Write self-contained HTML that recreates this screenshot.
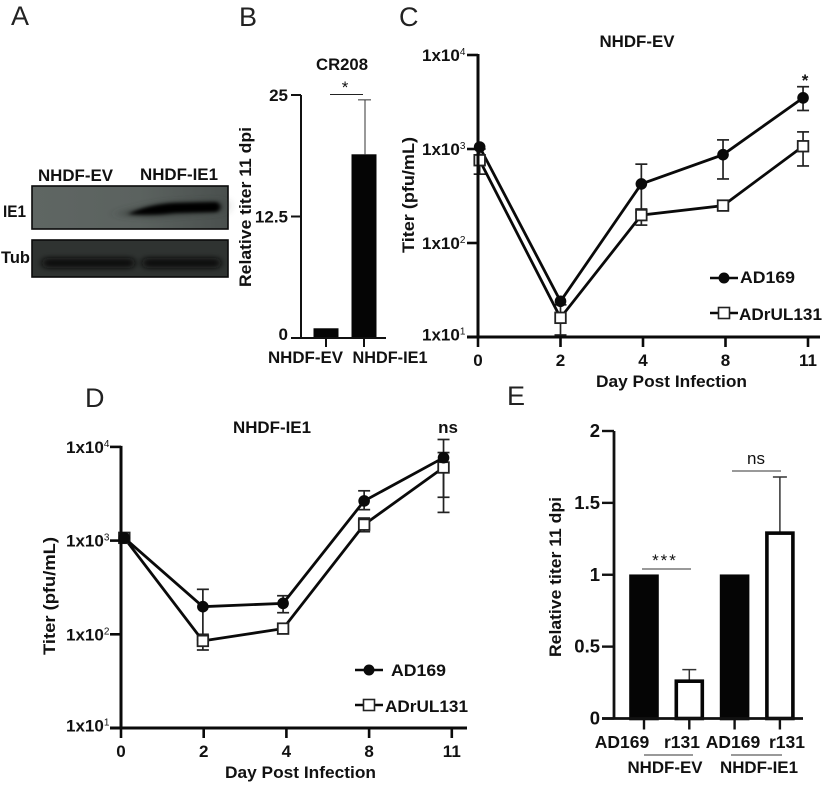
<!DOCTYPE html>
<html lang="en">
<head>
<meta charset="utf-8">
<title>NHDF titer figure</title>
<style>
html,body{margin:0;padding:0;background:#fff}
#fig{display:block;width:830px;height:786px}
text{font-family:"Liberation Sans",sans-serif;font-weight:bold;fill:#111;font-size:17px}
.letter{font-weight:normal;font-size:27px;fill:#222}
.plain{font-weight:normal}
</style>
</head>
<body>
<svg id="fig" xmlns="http://www.w3.org/2000/svg" width="830" height="786" viewBox="0 0 830 786">
<defs>
<filter id="b3" x="-30%" y="-150%" width="160%" height="400%"><feGaussianBlur stdDeviation="2.2 1.6"/></filter>
<filter id="b4" x="-30%" y="-150%" width="160%" height="400%"><feGaussianBlur stdDeviation="3.5 2.6"/></filter>
<filter id="b5" x="-30%" y="-200%" width="160%" height="500%"><feGaussianBlur stdDeviation="7 3"/></filter>
<linearGradient id="blot1" x1="0" x2="1" y1="0" y2="0"><stop offset="0" stop-color="#5f6663"/><stop offset=".55" stop-color="#5b625f"/><stop offset="1" stop-color="#4a504e"/></linearGradient>
</defs>

<g>
<text class="letter" x="11" y="25">A</text>
<text class="letter" x="239" y="26">B</text>
<text class="letter" x="399" y="26">C</text>
<text class="letter" x="85" y="407">D</text>
<text class="letter" x="507" y="405">E</text>
</g>

<g>
<text x="38" y="181" textLength="75" lengthAdjust="spacingAndGlyphs">NHDF-EV</text>
<text x="140" y="180" textLength="78" lengthAdjust="spacingAndGlyphs">NHDF-IE1</text>
<text x="3" y="217" textLength="23" lengthAdjust="spacingAndGlyphs">IE1</text>
<text x="1" y="263" textLength="29" lengthAdjust="spacingAndGlyphs">Tub</text>
<rect x="32" y="186" width="196" height="43" fill="url(#blot1)" stroke="#0a0a0a" stroke-width="1.6"/>
<path d="M118 214 Q150 204 170 202 L220 200 Q224 207 218 213 L170 216 Q140 219 118 214Z" fill="#3b403e" filter="url(#b5)"/>
<path d="M128 214 Q150 204 175 203 L217 202 Q224 207 217 212 L175 213 Q150 216 128 214Z" fill="#020202" filter="url(#b3)"/>
<rect x="32" y="240" width="196" height="37" fill="#2f3331" stroke="#0a0a0a" stroke-width="1.6"/>
<rect x="42" y="258" width="93" height="10" rx="5" fill="#070707" filter="url(#b4)"/>
<rect x="142" y="258" width="79" height="10" rx="5" fill="#070707" filter="url(#b4)"/>
</g>

<g id="panelB">
<text x="342" y="70" text-anchor="middle" textLength="52" lengthAdjust="spacingAndGlyphs">CR208</text>
<text x="345" y="93" text-anchor="middle" class="plain">*</text>
<line x1="330" x2="363" y1="94.5" y2="94.5" stroke="#222" stroke-width="1"/>
<text transform="translate(251 207) rotate(-90)" text-anchor="middle" textLength="160" lengthAdjust="spacingAndGlyphs">Relative titer 11 dpi</text>
</g>

<g id="panelC">
<text x="637" y="47" text-anchor="middle" textLength="75" lengthAdjust="spacingAndGlyphs">NHDF-EV</text>
<text x="805" y="86" text-anchor="middle">*</text>
<text transform="translate(414 195) rotate(-90)" text-anchor="middle" textLength="116" lengthAdjust="spacingAndGlyphs">Titer (pfu/mL)</text>
<text x="596" y="387" textLength="151" lengthAdjust="spacingAndGlyphs">Day Post Infection</text>
<text x="740" y="283" textLength="55" lengthAdjust="spacingAndGlyphs">AD169</text>
<text x="739" y="320" textLength="83" lengthAdjust="spacingAndGlyphs">ADrUL131</text>
</g>

<g id="panelD">
<text x="272" y="433" text-anchor="middle" textLength="78" lengthAdjust="spacingAndGlyphs">NHDF-IE1</text>
<text x="448" y="433" text-anchor="middle">ns</text>
<text transform="translate(55 596) rotate(-90)" text-anchor="middle" textLength="118" lengthAdjust="spacingAndGlyphs">Titer (pfu/mL)</text>
<text x="225" y="778" textLength="151" lengthAdjust="spacingAndGlyphs">Day Post Infection</text>
<text x="391" y="676" textLength="55" lengthAdjust="spacingAndGlyphs">AD169</text>
<text x="385" y="712" textLength="83" lengthAdjust="spacingAndGlyphs">ADrUL131</text>
</g>

<g id="panelE">
<text transform="translate(561 577) rotate(-90)" text-anchor="middle" textLength="160" lengthAdjust="spacingAndGlyphs">Relative titer 11 dpi</text>
<text x="665" y="566" text-anchor="middle" class="plain" letter-spacing="2">***</text>
<line x1="642" x2="691" y1="569" y2="569" stroke="#333" stroke-width="1"/>
<text x="756" y="464" text-anchor="middle" class="plain">ns</text>
<line x1="732" x2="781" y1="471" y2="471" stroke="#333" stroke-width="1"/>
<line x1="644" x2="693" y1="755" y2="755" stroke="#333" stroke-width="1"/>
<line x1="731" x2="782" y1="755" y2="755" stroke="#333" stroke-width="1"/>
<text x="665" y="773" text-anchor="middle" textLength="75" lengthAdjust="spacingAndGlyphs">NHDF-EV</text>
<text x="759" y="773" text-anchor="middle" textLength="78" lengthAdjust="spacingAndGlyphs">NHDF-IE1</text>
</g>
</svg>

<script>
// Panel B data
var bCategories = ["NHDF-EV", "NHDF-IE1"];
var bValues = [1, 18.9];
var bErrorHigh = [null, 24.5];
var bTickValues = [0, 12.5, 25];
var bTickLabels = ["0", "12.5", "25"];

// Panel C data
var cCategories = ["0", "2", "4", "8", "11"];
var cSlots = [0.02, 1, 1.98, 2.97, 3.94];
var cAd169 = [1050, 24, 425, 870, 3500];
var cAd169High = [null, null, 690, 1250, 4600];
var cAd169Low = [null, null, 210, 480, 2570];
var cRul131 = [760, 16, 198, 250, 1070];
var cRul131High = [1000, 22, 230, null, 1520];
var cRul131Low = [540, 10.5, 155, null, 660];
var cTickValues = [10, 100, 1000, 10000];
var cTickExponents = ["1", "2", "3", "4"];

// Panel D data
var dCategories = ["0", "2", "4", "8", "11"];
var dSlots = [0.04, 0.99, 1.96, 2.94, 3.9];
var dAd169 = [1070, 197, 214, 2650, 7670];
var dAd169High = [null, 302, 258, 3400, 12000];
var dAd169Low = [null, 87, 170, 2140, 2900];
var dRul131 = [1070, 85, 115, 1480, 6030];
var dRul131High = [null, 100, null, 1740, 8700];
var dRul131Low = [null, 68, null, 1245, 2000];
var dTickValues = [10, 100, 1000, 10000];
var dTickExponents = ["1", "2", "3", "4"];

// Panel E data
var eCategories = ["AD169", "r131", "AD169", "r131"];
var eValues = [1, 0.27, 1, 1.3];
var eErrorHigh = [null, 0.34, null, 1.68];
var eFilled = [true, false, true, false];
var eTickValues = [0, 0.5, 1, 1.5, 2];
var eTickLabels = ["0", "0.5", "1", "1.5", "2"];

var NS = "http://www.w3.org/2000/svg";
function mk(parent, tag, props, content) {
  var n = document.createElementNS(NS, tag);
  for (var k in props) { n.setAttribute(k, props[k]); }
  if (content !== undefined) { n.textContent = content; }
  parent.appendChild(n);
  return n;
}

// Axis functions
function xB(i) { return 326 + i * 38; }
function yB(v) { return 338 - v / 25 * 243; }
function xC(s) { return 478 + s * 82.5; }
function yC(v) { return 337 - (Math.log10(v) - 1) * 94; }
function xD(s) { return 121 + s * 82.7; }
function yD(v) { return 728 - (Math.log10(v) - 1) * 93.7; }
function xE(i) { return 644 + i * 45.3; }
function yE(v) { return 718.5 - v / 2 * 287.5; }

function drawErrors(g, xs, values, high, low, sx, sy, prefix) {
  values.forEach(function (v, i) {
    var x = sx(xs[i]);
    [high[i], low[i]].forEach(function (e, j) {
      if (e === null) { return; }
      var stem = mk(g, 'line', {x1: x, x2: x, y1: sy(v), y2: sy(e), stroke: '#222', 'stroke-width': 1.7});
      
      
      var cap = mk(g, 'line', {x1: x - 6, x2: x + 6, y1: sy(e), y2: sy(e), stroke: '#222', 'stroke-width': 1.7});
      
      
    });
  });
}
function drawCircles(g, xs, values, sx, sy, prefix) {
  var pts = values.map(function (v, i) { return sx(xs[i]) + ',' + sy(v); }).join(' ');
  var line = mk(g, 'polyline', {points: pts, fill: 'none', stroke: '#0a0a0a', 'stroke-width': 2.8});
  
  
  values.forEach(function (v, i) {
    var c = mk(g, 'circle', {cx: sx(xs[i]), cy: sy(v), r: 5.8, fill: '#0a0a0a'});
    
    
  });
}
function drawSquares(g, xs, values, sx, sy, prefix) {
  var pts = values.map(function (v, i) { return sx(xs[i]) + ',' + sy(v); }).join(' ');
  var line = mk(g, 'polyline', {points: pts, fill: 'none', stroke: '#0a0a0a', 'stroke-width': 2.8});
  
  
  values.forEach(function (v, i) {
    var s = mk(g, 'rect', {x: sx(xs[i]) - 5.3, y: sy(v) - 5.3, width: 10.6, height: 10.6, fill: '#fff', stroke: '#222', 'stroke-width': 1.8});
    
    
  });
}
function drawLogAxes(g, sx, sy, ticks, exps, cats, o) {
  var ya = mk(g, 'line', {x1: o.x0, x2: o.x0, y1: sy(ticks[ticks.length - 1]) - 1, y2: sy(ticks[0]), stroke: '#0a0a0a', 'stroke-width': 3});
  
  
  var xa = mk(g, 'line', {x1: o.x0 - 11, x2: o.xEnd, y1: sy(ticks[0]), y2: sy(ticks[0]), stroke: '#0a0a0a', 'stroke-width': 3});
  
  
  ticks.forEach(function (t, i) {
    var tk = mk(g, 'line', {x1: o.x0 - 11, x2: o.x0, y1: sy(t), y2: sy(t), stroke: '#0a0a0a', 'stroke-width': 2.6});
    
    
    var lb = mk(g, 'text', {x: o.labelX, y: sy(t) + (i === 0 ? 3.5 : 6)});
    
    
    mk(lb, 'tspan', {}, '1x10');
    mk(lb, 'tspan', {dy: -6, style: 'font-size:10px;font-weight:normal'}, exps[i]);
  });
  cats.forEach(function (c, i) {
    var tk = mk(g, 'line', {x1: sx(i), x2: sx(i), y1: sy(ticks[0]), y2: sy(ticks[0]) + 10, stroke: '#0a0a0a', 'stroke-width': 2.6});
    
    
    var lb = mk(g, 'text', {x: sx(i), y: sy(ticks[0]) + 29, 'text-anchor': 'middle'}, c);
    
    
  });
}
function drawLegend(g, lx, y1, y2) {
  var l1 = mk(g, 'line', {x1: lx - 14, x2: lx + 14, y1: y1, y2: y1, stroke: '#0a0a0a', 'stroke-width': 2.6});
  
  
  var c = mk(g, 'circle', {cx: lx, cy: y1, r: 5.5, fill: '#0a0a0a'});
  
  
  var l2 = mk(g, 'line', {x1: lx - 14, x2: lx + 14, y1: y2, y2: y2, stroke: '#0a0a0a', 'stroke-width': 2.6});
  
  
  var s = mk(g, 'rect', {x: lx - 5.5, y: y2 - 5.5, width: 11, height: 11, fill: '#fff', stroke: '#222', 'stroke-width': 1.6});
  
  
}

/* Panel B */
(function () {
  var g = document.getElementById('panelB');
  bValues.forEach(function (v, i) {
    var b = mk(g, 'rect', {x: xB(i) - 12.5, y: yB(v), width: 25, height: yB(0) - yB(v), fill: '#050505'});
    
    
    if (bErrorHigh[i] !== null) {
      var s = mk(g, 'line', {x1: xB(i) + 1, x2: xB(i) + 1, y1: yB(v), y2: yB(bErrorHigh[i]), stroke: '#333', 'stroke-width': 1});
      
      
      var c = mk(g, 'line', {x1: xB(i) - 6, x2: xB(i) + 7, y1: yB(bErrorHigh[i]), y2: yB(bErrorHigh[i]), stroke: '#333', 'stroke-width': 1});
      
      
    }
    var t = mk(g, 'line', {x1: xB(i), x2: xB(i), y1: yB(0), y2: yB(0) + 9, stroke: '#111', 'stroke-width': 2});
    
    
    var lb = mk(g, 'text', {x: i === 0 ? 305.5 : 390, y: 363, 'text-anchor': 'middle', textLength: 75, lengthAdjust: 'spacingAndGlyphs'}, bCategories[i]);
    
    
  });
  var ya = mk(g, 'line', {x1: 301, x2: 301, y1: yB(25), y2: yB(0), stroke: '#111', 'stroke-width': 2});
  
  
  var xa = mk(g, 'line', {x1: 291, x2: 386, y1: yB(0), y2: yB(0), stroke: '#111', 'stroke-width': 2});
  
  
  bTickValues.forEach(function (t, i) {
    var tk = mk(g, 'line', {x1: 291, x2: 301, y1: yB(t), y2: yB(t), stroke: '#111', 'stroke-width': 2});
    
    
    var lb = mk(g, 'text', {x: 288, y: yB(t) + (i === 0 ? 2 : 6), 'text-anchor': 'end'}, bTickLabels[i]);
    
    
  });
})();

/* Panel C */
(function () {
  var g = document.getElementById('panelC');
  drawErrors(g, cSlots, cAd169, cAd169High, cAd169Low, xC, yC, 'panel-c-ad169');
  drawErrors(g, cSlots, cRul131, cRul131High, cRul131Low, xC, yC, 'panel-c-adrul131');
  drawCircles(g, cSlots, cAd169, xC, yC, 'panel-c-ad169');
  drawSquares(g, cSlots, cRul131, xC, yC, 'panel-c-adrul131');
  drawLogAxes(g, xC, yC, cTickValues, cTickExponents, cCategories, {x0: 478, xEnd: 820, labelX: 422});
  drawLegend(g, 724, 278, 313);
})();

/* Panel D */
(function () {
  var g = document.getElementById('panelD');
  drawErrors(g, dSlots, dRul131, dRul131High, dRul131Low, xD, yD, 'panel-d-adrul131');
  drawErrors(g, dSlots, dAd169, dAd169High, dAd169Low, xD, yD, 'panel-d-ad169');
  drawSquares(g, dSlots, dRul131, xD, yD, 'panel-d-adrul131');
  drawCircles(g, dSlots, dAd169, xD, yD, 'panel-d-ad169');
  drawLogAxes(g, xD, yD, dTickValues, dTickExponents, dCategories, {x0: 121, xEnd: 467, labelX: 66});
  drawLegend(g, 369, 670, 705);
})();

/* Panel E */
(function () {
  var g = document.getElementById('panelE');
  var labelX = [622, 682, 733, 787];
  eValues.forEach(function (v, i) {
    if (eErrorHigh[i] !== null) {
      var s = mk(g, 'line', {x1: xE(i), x2: xE(i), y1: yE(v), y2: yE(eErrorHigh[i]), stroke: '#333', 'stroke-width': 1.5});
      
      
      var c = mk(g, 'line', {x1: xE(i) - 7, x2: xE(i) + 7, y1: yE(eErrorHigh[i]), y2: yE(eErrorHigh[i]), stroke: '#333', 'stroke-width': 1.5});
      
      
    }
    var b = mk(g, 'rect', {
      x: xE(i) - 13, y: yE(v) + 1.5, width: 26, height: yE(0) - yE(v) - 1.5,
      fill: eFilled[i] ? '#050505' : '#fff', stroke: '#050505', 'stroke-width': 3.6
    });
    
    
    var t = mk(g, 'line', {x1: xE(i), x2: xE(i), y1: yE(0), y2: yE(0) + 11, stroke: '#111', 'stroke-width': 2.4});
    
    
    var lb = mk(g, 'text', {x: labelX[i], y: 748, 'text-anchor': 'middle', style: 'font-size:17.5px'}, eCategories[i]);
    
    
  });
  var ya = mk(g, 'line', {x1: 614, x2: 614, y1: yE(2), y2: yE(0), stroke: '#111', 'stroke-width': 2.8});
  
  
  var xa = mk(g, 'line', {x1: 602, x2: 803, y1: yE(0), y2: yE(0), stroke: '#111', 'stroke-width': 2.8});
  
  
  eTickValues.forEach(function (t, i) {
    var tk = mk(g, 'line', {x1: 602, x2: 614, y1: yE(t), y2: yE(t), stroke: '#111', 'stroke-width': 2.4});
    
    
    var lb = mk(g, 'text', {x: 600, y: yE(t) + 6, 'text-anchor': 'end', style: 'font-size:18.5px'}, eTickLabels[i]);
    
    
  });
})();
</script>
</body>
</html>
